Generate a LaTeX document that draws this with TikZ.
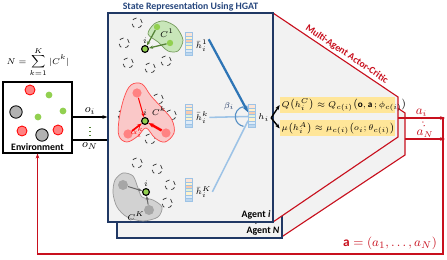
\documentclass[tikz,border=0pt]{standalone}
\usepackage{fontspec}
\setmainfont{Carlito}
\usepackage{amsmath}
\usetikzlibrary{arrows.meta,calc}

\definecolor{navy}{RGB}{32,56,100}
\definecolor{titleblue}{RGB}{38,70,125}
\definecolor{boxgray}{RGB}{242,242,242}
\definecolor{acred}{RGB}{200,16,30}
\definecolor{ylw}{RGB}{255,230,153}
\definecolor{lgreen}{RGB}{146,208,80}
\definecolor{dgreen}{RGB}{84,130,53}
\definecolor{blobgreen}{RGB}{200,230,185}
\definecolor{lred}{RGB}{255,130,130}
\definecolor{blobred}{RGB}{250,200,200}
\definecolor{blobgray}{RGB}{210,210,210}
\definecolor{dblue}{RGB}{46,117,182}
\definecolor{lblue}{RGB}{157,195,230}
\definecolor{cellA}{RGB}{252,228,214}
\definecolor{cellB}{RGB}{255,242,204}
\definecolor{cellC}{RGB}{248,203,173}
\definecolor{cellD}{RGB}{226,240,217}
\definecolor{cellE}{RGB}{222,235,247}
\definecolor{cellF}{RGB}{189,215,238}

% feature vector: name, centre
\newcommand{\featbar}[2]{%
  \node[featvec] (#1) at (#2) {};
  \foreach \c [count=\j from 0] in {cellA,cellB,cellC,cellD,cellB,cellE,cellF}
    \draw[cellline, fill=\c] ($(#1.north west)+(0,\j*3.3)$) rectangle ++(7,3.3);
}

\begin{document}
\begin{tikzpicture}[x=0.025cm, y=-0.025cm, line width=0.6pt,
  font=\fontsize{7}{8}\selectfont,
  agentbox/.style={draw=navy, line width=0.9pt, fill=boxgray, minimum width=4.125cm, minimum height=5.225cm, inner sep=0},
  acside/.style={draw=acred, line width=0.8pt, fill=boxgray},
  featvec/.style={minimum width=0.175cm, minimum height=0.5775cm, inner sep=0},
  cellline/.style={draw=lblue, line width=0.4pt},
  dcirc/.style={circle, draw=black!80, dashed, line width=0.5pt, minimum size=0.26cm, inner sep=0},
  agt/.style={circle, draw=black, fill=lgreen, line width=0.8pt, minimum size=0.17cm, inner sep=0},
  gnode/.style={circle, fill=lgreen, minimum size=0.16cm, inner sep=0},
  rnode/.style={circle, fill=lred, minimum size=0.23cm, inner sep=0},
  grnode/.style={circle, fill=black!35, minimum size=0.25cm, inner sep=0},
  envred/.style={circle, draw=red, fill=lred, line width=0.6pt, minimum size=0.25cm, inner sep=0},
  envgreen/.style={circle, fill=lgreen, minimum size=0.17cm, inner sep=0},
  envgray/.style={circle, draw=black, fill=black!30, line width=0.6pt, minimum size=0.31cm, inner sep=0},
  lbl/.style={inner sep=0.5pt, font=\fontsize{6.5}{7}\selectfont},
  ybox/.style={fill=ylw, text width=2.79cm, minimum height=0.4cm, inner xsep=0.04cm, inner ysep=0, align=left, font=\fontsize{6.5}{7}\selectfont},
  redarr/.style={draw=acred, line width=0.8pt, -{Stealth[length=3.5pt]}}]
\useasboundingbox (0,0) rectangle (447,260);

% back agent and its actor-critic side
\draw[acside] (280,29) -- (405,113) -- (405,155) -- (280,238) -- cycle;
\node[agentbox] (agentN) at (199.5,133.5) {};
\node[anchor=south east, inner sep=2pt] (agentNlab) at (agentN.south east) {\textbf{Agent \textit{N}}};
\node[lbl] (ndots) at (256,225) {$\vdots$};

% front agent and its actor-critic side
\draw[acside] (273,13) -- (398,97) -- (398,137) -- (273,222) -- cycle;
\path (273,13) -- node[pos=0.56, sloped, above, text=acred, inner sep=1.5pt] (aclab) {\textbf{Multi-Agent Actor-Critic}} (398,97);
\node[agentbox] (agenti) at (190.5,117.5) {};
\node[anchor=south east, inner sep=2pt] (agentilab) at (agenti.south east) {\textbf{Agent \textit{i}}};
\node[text=titleblue, inner sep=0] (title) at (190.5,6.5) {\textbf{State Representation Using HGAT}};

% environment
\node[draw=black, fill=white, line width=0.8pt, minimum width=1.725cm, minimum height=1.775cm] (env) at (37.5,117.5) {};
\node[anchor=south, inner sep=2pt] (envlab) at (env.south) {\textbf{Environment}};
\node[envred] (e1) at (30,90) {};
\node[envred] (e2) at (22,131) {};
\node[envred] (e3) at (58,130) {};
\node[envgreen] (e4) at (49,95) {};
\node[envgreen] (e5) at (63,111) {};
\node[envgreen] (e6) at (38,117) {};
\node[envgray] (e7) at (16,112) {};
\node[envgray] (e8) at (42,135) {};
\node[font=\fontsize{6.3}{7}\selectfont, inner sep=0] (nsum) at (38,62) {$N=\displaystyle\sum_{k=1}^{K}|C^k|$};

% observations
\coordinate (oi) at (90,117);
\coordinate (oN) at (90,140);
\draw[line width=0.8pt, -{Stealth[length=3.5pt]}] (env.east |- oi) -- node[above, font=\fontsize{8}{9}\selectfont, inner sep=1.5pt] (oilab) {$o_i$} (agenti.west |- oi);
\draw[line width=0.8pt] (env.east |- oN) -- node[below, font=\fontsize{8}{9}\selectfont, inner sep=1.5pt] (oNlab) {$o_N$} (agenti.west |- oN);
\draw[dgreen, dotted, line width=0.8pt] (90,127) -- (90,135);

% dashed neighbours
\foreach \p [count=\n] in {(137,23),(124,43),(128,63),(150,68),(166,61),
    (158,99),(123,115),(171,115),(150,139),
    (137,163),(157,169),(170,185),(167,203),(128,205)}
  \node[dcirc] (d\n) at \p {};

% cluster 1
\draw[draw=dgreen!80, fill=blobgreen, line width=0.5pt] plot[smooth cycle] coordinates {(148,34) (154,24) (164,21) (176,27) (183,40) (178,51) (168,51) (158,42)};
\node[gnode] (g1) at (157,27) {};
\node[gnode] (g2) at (170,43) {};
\node[agt] (a1) at (145,49) {};
\node[lbl, above] at (a1.north) {$i$};
\node[lbl] (c1lab) at (167,33) {$C^1$};
\draw[dgreen, line width=0.9pt, -{Stealth[length=3pt]}] (g1) -- (a1);
\draw[dgreen, line width=0.9pt, -{Stealth[length=3pt]}] (g2) -- (a1);

% cluster k
\draw[draw=red!70, fill=blobred, line width=0.5pt] plot[smooth cycle, tension=0.6] coordinates {(131,85) (142,84) (151,96) (163,109) (172,120) (174,133) (165,142) (155,138) (146,128) (138,136) (127,142) (119,136) (119,120) (124,98)};
\node[rnode] (r1) at (137,93) {};
\node[rnode] (r2) at (128,134) {};
\node[rnode] (r3) at (166,133) {};
\node[agt] (a2) at (145,121) {};
\node[lbl, above] at (a2.north) {$i$};
\node[lbl] (cklab) at (159,111) {$C^k$};
\draw[red, line width=0.7pt, -{Stealth[length=3pt]}] (r1) -- (a2);
\draw[red, line width=1.2pt, -{Stealth[length=3.5pt]}] (r2) -- (a2);
\draw[red, line width=1.8pt, -{Stealth[length=4pt]}] (r3) -- (a2);
\node[lbl, text=red] (alab) at (137,132) {$\alpha_i^k$};

% cluster K
\draw[draw=black!40, fill=blobgray, line width=0.5pt] plot[smooth cycle] coordinates {(115,180) (123,173) (133,176) (138,188) (142,197) (153,200) (162,207) (158,217) (143,221) (127,217) (117,207) (113,193)};
\node[grnode] (gr1) at (123,185) {};
\node[grnode] (gr2) at (149,210) {};
\node[agt] (a3) at (146,192) {};
\node[lbl, above] at (a3.north) {$i$};
\node[lbl] (cKlab) at (136,216) {$C^K$};
\draw[black!60, line width=0.7pt, -{Stealth[length=3pt]}] (gr1) -- (a3);
\draw[black!60, line width=0.7pt, -{Stealth[length=3pt]}] (gr2) -- (a3);

% feature vectors
\featbar{hb1}{189.5,44.5}
\featbar{hbk}{189.5,116}
\featbar{hbK}{189.5,190.5}
\featbar{hi}{252,116.5}
\node[anchor=west, lbl] (hb1lab) at ([xshift=1pt,yshift=-1pt]hb1.east) {$\bar{h}_i^1$};
\node[anchor=west, lbl] (hbklab) at ([xshift=1pt,yshift=-1pt]hbk.east) {$\bar{h}_i^k$};
\node[anchor=west, lbl] (hbKlab) at ([xshift=1pt,yshift=-1pt]hbK.east) {$\bar{h}_i^K$};
\node[anchor=west, lbl] (hilab) at ([xshift=1pt,yshift=-1pt]hi.east) {$h_i$};

% attention over clusters
\draw[dblue, line width=1.6pt, -{Stealth[length=5pt]}] (hb1lab.north east) -- ([yshift=3pt]hi.west);
\draw[lblue, line width=1.1pt] (hbklab.east) -- (hi.west);
\draw[lblue, line width=1.1pt] (hbKlab.east) -- ([yshift=-3pt]hi.west);
\draw[dblue!80, line width=0.8pt] ([xshift=-2pt]hi.west) ++(100:0.25cm) arc[start angle=100, end angle=260, radius=0.25cm];
\node[lbl, text=navy] (betalab) at (229,106) {$\beta_i$};

% actor and critic
\node[ybox] (qbox) at (337.5,105) {\mbox{$Q\big(h_i^C\big)\approx Q_{c(i)}\big(\mathbf{o},\mathbf{a}\,;\phi_{c(i)}\big)$}};
\node[ybox] (mubox) at (337.5,128.5) {\mbox{$\mu\big(h_i^A\big)\approx \mu_{c(i)}\big(o_i;\theta_{c(i)}\big)$}};
\coordinate (br) at ($(hilab.east)+(1,0)$);
\draw[line width=1pt, -{Stealth[length=3.5pt]}] (br) -- (qbox.west);
\draw[line width=1pt, -{Stealth[length=3.5pt]}] (br) -- (mubox.west);

% actions
\coordinate (ai0) at (398,118);
\coordinate (ai1) at (445,118);
\coordinate (aN0) at (405,139);
\coordinate (aN1) at (445,139);
\draw[redarr] (ai0) -- node[above, text=acred, font=\fontsize{9}{10}\selectfont, inner sep=1pt] (ailab) {$a_i$} (ai1);
\draw[redarr] (aN0) -- node[above, text=acred, font=\fontsize{9}{10}\selectfont, inner sep=1pt] (aNlab) {$a_N$} (aN1);
\draw[acred, dotted, line width=0.7pt] (ailab.south) -- (aNlab.north);
\coordinate (fb0) at (443,117);
\coordinate (fb1) at (443,254);
\draw[redarr] (fb0) -- (fb1) -| (env.south);
\node[text=acred, font=\fontsize{9.5}{11}\selectfont] (alab) at (390,243) {$\mathbf{a}=(a_1,\dots,a_N)$};
\end{tikzpicture}
\end{document}
